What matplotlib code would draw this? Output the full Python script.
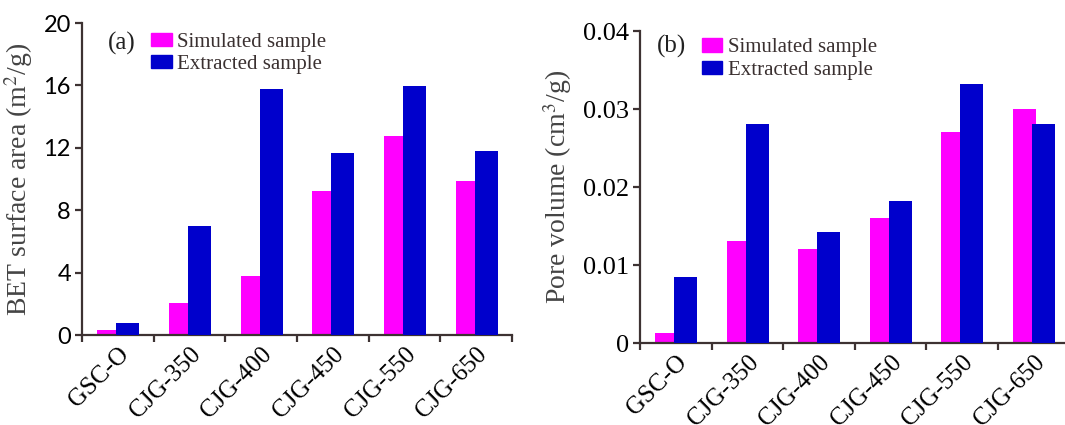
import numpy as np
import matplotlib
matplotlib.use('Agg')
import matplotlib.pyplot as plt

plt.rcParams['mathtext.fontset'] = 'stix'

# Data
samples = ['GSC-O', 'CJG-350', 'CJG-400', 'CJG-450', 'CJG-550', 'CJG-650']
bet_simulated = [0.32, 2.07, 3.76, 9.2, 12.75, 9.88]
bet_extracted = [0.8, 7.0, 15.8, 11.65, 15.95, 11.8]
pv_simulated = [0.0013, 0.0131, 0.0121, 0.0160, 0.0271, 0.0300]
pv_extracted = [0.0084, 0.0281, 0.0142, 0.0182, 0.0332, 0.0281]
legend_labels = ['Simulated sample', 'Extracted sample']

# Style
c_sim = '#FF00FF'
c_ext = '#0000CC'
spine_c = '#3d3232'
text_c = '#3a3030'
serif = 'Liberation Serif'
sans = 'Lato'
bar_w = 0.32
off_sim, off_ext = -0.125, 0.14

fig = plt.figure(figsize=(10.65, 4.25), dpi=100)
ax_a = fig.add_axes([82 / 1065, 90 / 425, 430 / 1065, 312 / 425])
ax_b = fig.add_axes([640 / 1065, 82 / 425, 429 / 1065, 312 / 425])

x = np.arange(len(samples))


def draw_panel(ax, sim, ext, ylim, yticks, ylabels, ytick_font, ytick_size):
    ax.bar(x + off_sim, sim, width=bar_w, color=c_sim, zorder=2)
    ax.bar(x + off_ext, ext, width=bar_w, color=c_ext, zorder=3)
    ax.set_xlim(-0.5, len(samples) - 0.5)
    ax.set_ylim(*ylim)
    for s in ['top', 'right']:
        ax.spines[s].set_visible(False)
    for s in ['left', 'bottom']:
        ax.spines[s].set_color(spine_c)
        ax.spines[s].set_linewidth(1.6)
    # boundaries as major ticks, names as minor tick labels
    ax.set_xticks(np.arange(-0.5, len(samples), 1.0))
    ax.set_xticklabels([])
    ax.set_xticks(x, minor=True)
    ax.set_xticklabels(samples, minor=True, rotation=45, ha='right',
                       rotation_mode='anchor')
    ax.tick_params(axis='x', which='major', direction='out', length=5,
                   width=1.6, color=spine_c)
    ax.tick_params(axis='x', which='minor', length=0, pad=6,
                   labelfontfamily=serif, labelsize=18)
    ax.set_yticks(yticks)
    ax.set_yticklabels(ylabels)
    ax.tick_params(axis='y', direction='out', length=5, width=1.6,
                   color=spine_c, pad=3, labelfontfamily=ytick_font,
                   labelsize=ytick_size)


draw_panel(ax_a, bet_simulated, bet_extracted, (0, 20), [0, 4, 8, 12, 16, 20],
           ['0', '4', '8', '12', '16', '20'], sans, 17)
draw_panel(ax_b, pv_simulated, pv_extracted, (0, 0.04),
           [0, 0.01, 0.02, 0.03, 0.04],
           ['0', '0.01', '0.02', '0.03', '0.04'], serif, 19)

ax_a.set_ylabel(r'BET surface area (m$^2$/g)', fontfamily=serif, fontsize=20,
                color='#444444', labelpad=6)
ax_b.set_ylabel(r'Pore volume (cm$^3$/g)', fontfamily=serif, fontsize=20,
                color='#444444', labelpad=6)

# Panel tags and legends
ax_a.text(0.06, 0.935, '(a)', transform=ax_a.transAxes, fontfamily=serif,
          fontsize=18, color='#222222', va='center')
ax_b.text(0.04, 0.95, '(b)', transform=ax_b.transAxes, fontfamily=serif,
          fontsize=18, color='#222222', va='center')

for ax, anchor in [(ax_a, (0.142, 0.995)), (ax_b, (0.124, 1.003))]:
    h = [plt.Rectangle((0, 0), 1, 1, color=c_sim),
         plt.Rectangle((0, 0), 1, 1, color=c_ext)]
    leg = ax.legend(h, legend_labels, loc='upper left', bbox_to_anchor=anchor,
                    frameon=False, prop={'family': serif, 'size': 15},
                    handlelength=1.0, handleheight=0.6, handletextpad=0.25,
                    labelspacing=0.15, borderaxespad=0.0)
    for t in leg.get_texts():
        t.set_color(text_c)

fig.savefig('out.png', dpi=100)
